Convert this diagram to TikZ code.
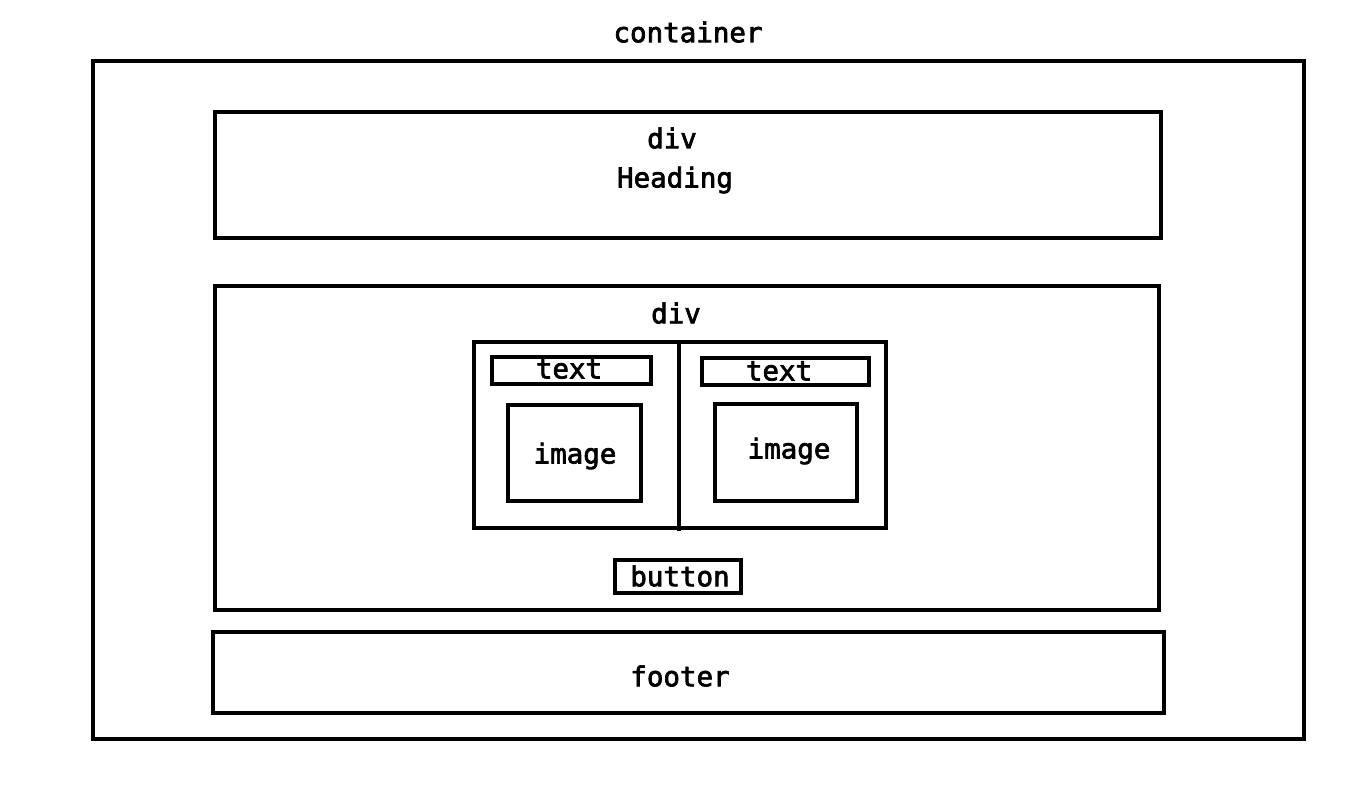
\documentclass[tikz,border=0pt]{standalone}
\usepackage{fontspec}
\newfontfamily\boxfont{DejaVu Sans Mono}[FakeBold=2.5]

\begin{document}
\begin{tikzpicture}[x=1pt,y=-1pt,
    box/.style={draw,line width=3.2pt,inner sep=0pt},
    lbl/.style={font=\boxfont\fontsize{27.5}{30}\selectfont,inner sep=0pt}]
  \useasboundingbox (0,0) rectangle (1366,810);
  % outer frames
  \node[box,minimum width=1211pt,minimum height=678pt] (container) at (698.5,400) {};
  \node[lbl] (containerlbl) at (688,32) {container};
  \node[box,minimum width=946pt,minimum height=126pt] (head) at (688,175) {};
  \node[lbl] (headdiv) at (672,138) {div};
  \node[lbl] (heading) at (675,180) {Heading};
  \node[box,minimum width=944pt,minimum height=324pt] (main) at (687,448) {};
  \node[lbl] (maindiv) at (676,313) {div};
  \node[box,minimum width=951pt,minimum height=81pt] (footer) at (688.5,672.5) {};
  \node[lbl] (footerlbl) at (680,676) {footer};
  % cards
  \node[box,minimum width=412pt,minimum height=186pt] (cards) at (680,435) {};
  \coordinate (divtop) at (679,342);
  \coordinate (divbot) at (679,531);
  \draw[line width=3.2pt] (divtop) -- (divbot);
  \node[box,minimum width=159pt,minimum height=27pt] (textA) at (571.5,370.5) {};
  \node[lbl] (textAlbl) at (569,369) {text};
  \node[box,minimum width=133pt,minimum height=96pt] (imageA) at (574.5,453) {};
  \node[lbl] (imageAlbl) at (575,456) {image};
  \node[box,minimum width=167pt,minimum height=27pt] (textB) at (785.5,371.5) {};
  \node[lbl] (textBlbl) at (779,371) {text};
  \node[box,minimum width=142pt,minimum height=97pt] (imageB) at (786,452.5) {};
  \node[lbl] (imageBlbl) at (789,451) {image};
  % button
  \node[box,minimum width=126pt,minimum height=33pt] (button) at (678,576.5) {};
  \node[lbl] (buttonlbl) at (680,576) {button};
\end{tikzpicture}
\end{document}
